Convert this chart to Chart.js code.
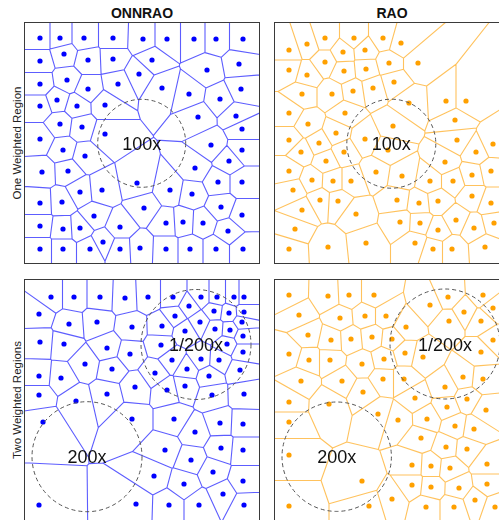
<!DOCTYPE html>
<html>
<head>
<meta charset="utf-8">
<script src="https://cdn.jsdelivr.net/npm/chart.js@4/dist/chart.umd.min.js"></script>
<style>
  html, body { margin: 0; padding: 0; background: #fff; }
  body { width: 499px; height: 520px; overflow: hidden; position: relative;
         font-family: "Liberation Sans", Arial, Helvetica, sans-serif; }
  .panel { position: absolute; }
  .panel canvas { display: block; }
  .colTitle { position: absolute; top: 5px; width: 236px; text-align: center;
              font-weight: bold; font-size: 14px; line-height: 16px; color: #111; }
  .rowTitle { position: absolute; width: 220px; height: 14px; line-height: 14px;
              text-align: center; font-size: 11.5px; color: #222;
              transform: rotate(-90deg); }
</style>
</head>
<body>
<script>
// Column (method) and row (scenario) headings
const methods = ['ONNRAO', 'RAO'];
const scenarios = ['One Weighted Region', 'Two Weighted Regions'];

// Domain of every panel, in plot units
const domainX = [0, 236];
const domainY = [0, 242];

// Generator sites, [x, y] with y measured downward from the top edge
const onnraoOneSites = [
  [16,16],[36,16],[60,16],[89,16],[119,17],[143,17],[170,17],[192,17],[219,17],
  [16,39],[40,32],[64,38],[89,37],[128,38],[183,48],[215,42],
  [16,62],[43,58],[64,67],[94,62],[115,52],[138,66],[165,72],[196,77],[217,67],
  [16,84],[33,78],[53,84],[81,83],[174,95],[212,94],
  [36,102],[58,105],[81,112],[218,107],
  [16,117],[39,128],[61,134],[187,123],[218,128],[205,139],[171,146],
  [18,150],[44,149],[56,170],[78,168],[113,161],[146,168],[168,172],[194,160],[218,160],
  [16,181],[38,180],[70,194],[120,186],[197,185],[218,193],
  [16,204],[39,207],[56,206],[96,205],[142,201],[159,200],[179,201],[204,209],
  [16,227],[39,227],[66,227],[79,220],[96,227],[116,226],[142,227],[166,227],[192,227],[219,227]
];
const raoOneSites = [
  [15,28],[33,22],[51,16],[80,16],[109,16],[127,21],[69,30],[91,28],
  [15,48],[33,53],[51,40],[70,49],[92,47],[115,41],[144,41],
  [28,72],[58,72],[79,69],[99,66],[120,60],[135,81],[172,79],[192,79],
  [15,91],[34,102],[71,91],[119,104],[181,98],[62,111],[45,121],[91,117],[114,128],
  [15,118],[27,130],[70,130],[183,118],[219,122],[202,130],[52,139],
  [15,149],[38,158],[59,159],[77,159],[102,150],[128,154],[171,140],[156,159],[179,159],[198,153],[217,149],
  [19,168],[46,178],[64,179],[123,178],[145,181],[164,179],[198,174],[217,181],
  [28,188],[82,192],[126,200],[146,201],[182,198],[200,206],[164,208],[220,201],[21,207],
  [15,227],[54,225],[92,221],[141,221],[159,227],[178,227],[211,225]
];
const onnraoTwoSites = [
  [27,18],[50,18],[76,18],[101,19],[15,35],[45,45],[73,43],[108,48],[16,63],[40,65],
  [83,69],[106,75],[61,85],[88,90],[15,97],[37,99],[83,115],[111,108],[15,116],[52,122],
  [19,143],[108,140],[150,140],[171,153],[196,144],[219,145],[141,171],[167,181],[197,169],[219,171],
  [130,197],[160,205],[189,193],[199,215],[219,202],[15,226],[112,225],[145,226],[175,226],[220,226],
  [124,18],[149,18],[177,18],[193,18],[210,18],[220,18],[165,27],[151,37],[190,32],[205,34],
  [220,33],[176,43],[138,47],[161,52],[191,50],[206,51],[218,43],[219,57],[137,66],[203,65],
  [219,73],[148,81],[177,80],[195,81],[163,90],[131,94],[185,97],[216,91],[143,111],[161,107],
  [188,116],[220,115]
];
const raoTwoSites = [
  [15,16],[54,17],[75,16],[100,16],[25,36],[66,39],[91,37],[112,37],
  [34,56],[57,61],[77,60],[98,58],[15,75],[35,81],[56,81],[88,85],[110,80],
  [27,102],[68,102],[109,100],[89,113],[15,123],[55,125],[15,143],[104,135],[124,141],
  [15,176],[88,202],[15,227],[95,227],
  [174,18],[209,16],[156,26],[190,33],[175,42],[207,42],[219,29],[132,48],[118,60],[219,61],
  [131,74],[149,78],[207,73],[189,98],[209,100],[130,100],[171,108],[141,119],[193,120],
  [173,128],[212,131],[153,140],[181,147],[200,150],[147,159],[172,168],[193,170],[213,185],
  [138,186],[157,187],[176,189],[138,206],[157,208],[185,209],[213,205],[118,220],[152,228],
  [180,228],[201,221],[221,228]
];

// Weighted regions: [centerX, centerY, radius, label]
const onnraoOneRegions = [[117.7, 121.3, 44, '100x']];
const raoOneRegions    = [[117.3, 121.7, 44.5, '100x']];
const onnraoTwoRegions = [[172, 65.5, 55, '1/200x'], [63, 177.7, 55, '200x']];
const raoTwoRegions    = [[171, 65, 55, '1/200x'], [62.7, 177.7, 54.7, '200x']];

// Clip a convex polygon to the half-plane of points closer to p than to q
function clipHalf(poly, p, q) {
  const nx = q.x - p.x, ny = q.y - p.y;
  const mx = (p.x + q.x) / 2, my = (p.y + q.y) / 2;
  const side = v => (v.x - mx) * nx + (v.y - my) * ny;
  const out = [];
  for (let i = 0; i < poly.length; i++) {
    const a = poly[i], b = poly[(i + 1) % poly.length];
    const sa = side(a), sb = side(b);
    if (sa <= 0) out.push(a);
    if ((sa < 0 && sb > 0) || (sa > 0 && sb < 0)) {
      const t = sa / (sa - sb);
      out.push({ x: a.x + t * (b.x - a.x), y: a.y + t * (b.y - a.y) });
    }
  }
  return out;
}

// Voronoi cells of the dataset's sites inside the scale domain
const cellPlugin = {
  id: 'cells',
  beforeDatasetsDraw(chart, args, opts) {
    const sx = chart.scales.x, sy = chart.scales.y;
    const pts = chart.data.datasets[0].data;
    const box = [
      { x: sx.min, y: sy.min }, { x: sx.max, y: sy.min },
      { x: sx.max, y: sy.max }, { x: sx.min, y: sy.max }
    ];
    const ctx = chart.ctx, area = chart.chartArea;
    ctx.save();
    ctx.beginPath();
    ctx.rect(area.left, area.top, area.right - area.left, area.bottom - area.top);
    ctx.clip();
    ctx.beginPath();
    pts.forEach((p, i) => {
      let poly = box.slice();
      pts.forEach((q, j) => {
        if (i !== j && poly.length) poly = clipHalf(poly, p, q);
      });
      if (poly.length < 3) return;
      poly.forEach((v, k) => {
        const px = sx.getPixelForValue(v.x), py = sy.getPixelForValue(v.y);
        if (k === 0) ctx.moveTo(px, py); else ctx.lineTo(px, py);
      });
      ctx.closePath();
    });
    ctx.strokeStyle = opts.color;
    ctx.lineWidth = 1.1;
    ctx.lineJoin = 'round';
    ctx.stroke();
    ctx.restore();
  }
};

// Dashed outlines of the weighted regions with their factor labels, plus panel frame
const regionPlugin = {
  id: 'regions',
  afterDatasetsDraw(chart, args, opts) {
    const sx = chart.scales.x, sy = chart.scales.y, ctx = chart.ctx;
    ctx.save();
    (opts.regions || []).forEach(([cx, cy, r, label]) => {
      const px = sx.getPixelForValue(cx), py = sy.getPixelForValue(cy);
      const pr = Math.abs(sx.getPixelForValue(cx + r) - px);
      ctx.beginPath();
      ctx.arc(px, py, pr, 0, Math.PI * 2);
      ctx.setLineDash([4, 3]);
      ctx.strokeStyle = '#555';
      ctx.lineWidth = 1;
      ctx.stroke();
      ctx.setLineDash([]);
      ctx.fillStyle = '#111';
      ctx.font = '18px "Liberation Sans", Arial, sans-serif';
      ctx.textAlign = 'center';
      ctx.textBaseline = 'alphabetic';
      ctx.fillText(label, px, py + 6.5);
    });
    const a = chart.chartArea;
    ctx.strokeStyle = '#3a3a3a';
    ctx.lineWidth = 1;
    ctx.strokeRect(a.left + 0.5, a.top + 0.5, a.right - a.left - 1, a.bottom - a.top - 1);
    ctx.restore();
  }
};

function makePanel(left, top, sites, regions, lineColor, dotColor) {
  const w = domainX[1] - domainX[0], h = domainY[1] - domainY[0];
  const holder = document.createElement('div');
  holder.className = 'panel';
  holder.style.left = left + 'px';
  holder.style.top = top + 'px';
  holder.style.width = w + 'px';
  holder.style.height = h + 'px';
  const canvas = document.createElement('canvas');
  holder.appendChild(canvas);
  document.body.appendChild(holder);
  new Chart(canvas, {
    type: 'scatter',
    data: {
      datasets: [{
        data: sites.map(([x, y]) => ({ x, y })),
        pointRadius: 2.6,
        pointBackgroundColor: dotColor,
        pointBorderWidth: 0,
        pointHoverRadius: 2.6
      }]
    },
    options: {
      responsive: true,
      maintainAspectRatio: false,
      animation: false,
      events: [],
      devicePixelRatio: 1,
      layout: { padding: 0, autoPadding: false },
      plugins: {
        legend: { display: false },
        tooltip: { enabled: false },
        cells: { color: lineColor },
        regions: { regions }
      },
      scales: {
        x: { type: 'linear', min: domainX[0], max: domainX[1], display: false },
        y: { type: 'linear', min: domainY[0], max: domainY[1], reverse: true, display: false }
      }
    },
    plugins: [cellPlugin, regionPlugin]
  });
}

const blueLine = 'rgba(30,30,255,0.72)', blueDot = '#0000ff';
const orangeLine = 'rgba(255,170,30,0.72)', orangeDot = '#ffa000';

makePanel(24, 22, onnraoOneSites, onnraoOneRegions, blueLine, blueDot);
makePanel(274, 22, raoOneSites, raoOneRegions, orangeLine, orangeDot);
makePanel(24, 279, onnraoTwoSites, onnraoTwoRegions, blueLine, blueDot);
makePanel(274, 279, raoTwoSites, raoTwoRegions, orangeLine, orangeDot);

// Headings as page text
[24, 274].forEach((left, i) => {
  const d = document.createElement('div');
  d.className = 'colTitle';
  d.style.left = left + 'px';
  d.textContent = methods[i];
  document.body.appendChild(d);
});
[143, 400].forEach((cy, i) => {
  const d = document.createElement('div');
  d.className = 'rowTitle';
  d.style.left = (17 - 110) + 'px';
  d.style.top = (cy - 7) + 'px';
  d.textContent = scenarios[i];
  document.body.appendChild(d);
});
</script>
</body>
</html>
